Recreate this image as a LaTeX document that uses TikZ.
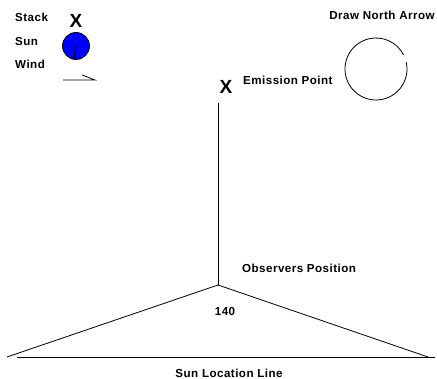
\documentclass[tikz,border=0pt]{standalone}
\usepackage{fontspec}
\setmainfont{Liberation Sans}[LetterSpace=4]
\begin{document}
\begin{tikzpicture}[x=1pt,y=-1pt,
  lbl/.style={font=\fontsize{11.6}{13}\selectfont\bfseries, inner sep=0pt},
  bigx/.style={font=\fontsize{19}{20}\selectfont\bfseries, inner sep=0pt},
  ln/.style={line width=0.8pt}]
\useasboundingbox (0,0) rectangle (437,379);
% legend
\node[lbl, anchor=west] (stack) at (15,17) {Stack};
\node[lbl, anchor=west] (sunlbl) at (15,42) {Sun};
\node[lbl, anchor=west] (windlbl) at (15,64) {Wind};
\node[bigx] (stackx) at (76,21) {X};
\node[circle, draw, fill=blue, line width=0.8pt, minimum size=27pt, inner sep=0pt] (sun) at (76,46) {};
\coordinate (sunc) at (76,45);
\coordinate (sunend) at (74,59);
\draw[line width=1.1pt] (sunc) -- (sunend);
\coordinate (w1) at (63,80);
\coordinate (w2) at (95,80);
\coordinate (w3) at (82,75);
\draw[ln] (w1) -- (w2) -- (w3);
% north arrow
\node[lbl] (north) at (382,15) {Draw North Arrow};
\coordinate (nc) at (376,69);
\draw[ln] (nc) ++(-13:31) arc[start angle=-13, end angle=333, radius=31];
% emission
\node[bigx] (emx) at (226,87) {X};
\node[lbl, anchor=west] (emlbl) at (243,80) {Emission Point};
\coordinate (vtop) at (218,103);
\coordinate (obs) at (218,285);
\draw[ln] (vtop) -- (obs);
\node[lbl, anchor=west] (obslbl) at (242,268) {Observers Position};
\node[lbl] (deg) at (225,312) {140};
% sun location line
\coordinate (left) at (7,357);
\coordinate (right) at (428,357);
\coordinate (hl) at (17,357);
\coordinate (hr) at (435,357);
\draw[ln] (left) -- (obs) -- (right);
\draw[ln] (hl) -- (hr);
\node[lbl] (sll) at (229,373) {Sun Location Line};
\end{tikzpicture}
\end{document}
